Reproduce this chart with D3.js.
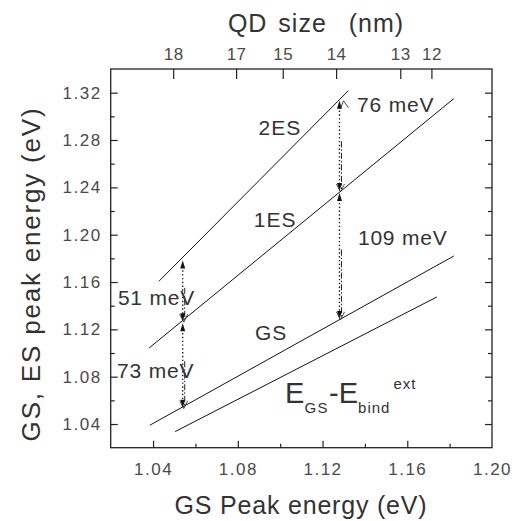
<!DOCTYPE html>
<html>
<head>
<meta charset="utf-8">
<script src="https://d3js.org/d3.v7.min.js"></script>
<style>
    body { margin: 0; background: #fff; }
    svg text { font-family: 'Liberation Sans', Arial, sans-serif; fill: #333; }
    .tick-label { font-size: 17px; fill: #4a4a4a; }
    .curve { fill: none; stroke: #111; stroke-width: 1; }
</style>
</head>
<body>
<div id="chart"></div>
<script>
    // axis ticks
    const xTicks = [1.04, 1.08, 1.12, 1.16, 1.20];
    const xMinor = [1.06, 1.10, 1.14, 1.18];
    const yTicks = [1.04, 1.08, 1.12, 1.16, 1.20, 1.24, 1.28, 1.32];
    const yMinor = [1.06, 1.10, 1.14, 1.18, 1.22, 1.26, 1.30];

    // top axis: QD size vs GS energy
    const qdSizes = [18, 17, 15, 14, 13, 12];
    const qdEnergy = [1.0495, 1.0792, 1.1012, 1.1264, 1.1567, 1.1714];

    // fitted lines, endpoints [GS energy, peak energy]
    const es2Line = [[1.0428, 1.1607], [1.1322, 1.3217]];
    const es1Line = [[1.0381, 1.1042], [1.1820, 1.3150]];
    const gsLine = [[1.0385, 1.0390], [1.1820, 1.1820]];
    const bindLine = [[1.0504, 1.0336], [1.1740, 1.1474]];

    // energy gaps shown with arrows
    const gapX = [1.054, 1.054, 1.128, 1.128];
    const gapTop = [1.179, 1.126, 1.314, 1.236];
    const gapBottom = [1.126, 1.053, 1.236, 1.128];

    // text labels [x, y, text]
    const lineLabels = [[1.0999, 1.2842, "2ES"], [1.0976, 1.2065, "1ES"], [1.0957, 1.1110, "GS"]];
    const gapLabels = [[1.0234, 1.1406, "51 meV"], [1.0230, 1.0789, "73 meV"],
                       [1.1363, 1.3037, "76 meV"], [1.1367, 1.1913, "109 meV"]];
    const bindLabelPos = [1.1023, 1.0578];

    const W = 514, H = 521;
    const svg = d3.select("#chart").append("svg")
        .attr("width", W).attr("height", H);

    const x = d3.scaleLinear().domain([1.02, 1.20]).range([110.7, 492]);
    const y = d3.scaleLinear().domain([1.02, 1.34]).range([447.7, 69]);
    const x0 = x.range()[0], x1 = x.range()[1], y0 = y.range()[0], y1 = y.range()[1];

    // frame
    svg.append("rect")
        .attr("x", x0).attr("y", y1)
        .attr("width", x1 - x0).attr("height", y0 - y1)
        .attr("fill", "none").attr("stroke", "#222").attr("stroke-width", 1.3);

    // bottom axis
    const bottomAxis = svg.append("g").attr("transform", `translate(0,${y0})`);
    bottomAxis.call(d3.axisBottom(x).tickValues(xTicks).tickSize(-7).tickPadding(15)
        .tickFormat(d3.format(".2f")));
    bottomAxis.selectAll(".tick").filter(d => d == 1.20).select("line").remove();
    bottomAxis.append("g").call(d3.axisBottom(x).tickValues(xMinor).tickSize(-4).tickFormat(""));

    // left axis
    const leftAxis = svg.append("g").attr("transform", `translate(${x0},0)`);
    leftAxis.call(d3.axisLeft(y).tickValues(yTicks).tickSize(-7).tickPadding(9)
        .tickFormat(d3.format(".2f")));
    leftAxis.append("g").call(d3.axisLeft(y).tickValues(yMinor).tickSize(-4).tickFormat(""));

    // right axis
    const rightAxis = svg.append("g").attr("transform", `translate(${x1},0)`);
    rightAxis.call(d3.axisRight(y).tickValues(yTicks).tickSize(-7).tickFormat(""));
    rightAxis.append("g").call(d3.axisRight(y).tickValues(yMinor).tickSize(-4).tickFormat(""));

    // top axis with QD size
    const qdScale = d3.scaleOrdinal().domain(qdSizes).range(qdEnergy.map(e => x(e)));
    const topAxis = svg.append("g").attr("transform", `translate(0,${y1})`);
    topAxis.call(d3.axisTop(qdScale).tickSize(-10).tickPadding(9));

    svg.selectAll(".domain").remove();
    svg.selectAll(".tick line").attr("stroke", "#222").attr("stroke-width", 1.2);
    svg.selectAll(".tick text").attr("class", "tick-label")
        .style("font-family", "'Liberation Sans', Arial, sans-serif");
    bottomAxis.selectAll(".tick text").style("letter-spacing", "1.5px");
    leftAxis.selectAll(".tick text").style("letter-spacing", "1.5px");
    topAxis.selectAll(".tick text").style("letter-spacing", "0.5px");

    // axis titles
    svg.append("text")
        .attr("x", 316).attr("y", 32)
        .attr("text-anchor", "middle")
        .style("font-size", "25px")
        .style("letter-spacing", "1px")
        .style("word-spacing", "3px")
        .style("white-space", "pre")
        .text("QD size  (nm)");
    svg.append("text")
        .attr("x", 301).attr("y", 514)
        .attr("text-anchor", "middle")
        .style("font-size", "25px")
        .style("letter-spacing", "0.8px")
        .text("GS Peak energy (eV)");
    svg.append("text")
        .attr("transform", "translate(40,274) rotate(-90)")
        .attr("text-anchor", "middle")
        .style("font-size", "26px")
        .style("letter-spacing", "1.8px")
        .text("GS, ES peak energy (eV)");

    // lines
    const line = d3.line().x(d => x(d[0])).y(d => y(d[1]));
    [es2Line, es1Line, gsLine, bindLine].forEach(pts => {
        svg.append("path").attr("class", "curve").attr("d", line(pts));
    });

    // arrows
    const arrows = svg.append("g");
    gapX.forEach((gx, i) => {
        const ax = x(gx);
        const ya = y(gapTop[i]) + 1, yb = y(gapBottom[i]) - 1;
        arrows.append("line")
            .attr("x1", ax).attr("x2", ax).attr("y1", ya + 6).attr("y2", yb - 6)
            .attr("stroke", "#111").attr("stroke-width", 1.3).attr("stroke-dasharray", "1.4,2.4");
        arrows.append("line")
            .attr("x1", ax + 2).attr("x2", ax + 2)
            .attr("y1", ya + (yb - ya) * 0.45).attr("y2", yb - 2)
            .attr("stroke", "#222").attr("stroke-width", 1).attr("stroke-dasharray", "6,2,1.5,2");
        // filled heads
        arrows.append("path")
            .attr("d", `M${ax},${ya} L${ax - 2.5},${ya + 8} L${ax + 2.5},${ya + 8} Z`)
            .attr("fill", "#111");
        arrows.append("path")
            .attr("d", `M${ax},${yb} L${ax - 2.5},${yb - 8} L${ax + 2.5},${yb - 8} Z`)
            .attr("fill", "#111");
        // open head at bottom
        arrows.append("path")
            .attr("d", `M${ax - 3},${yb - 7} L${ax + 1},${yb + 1} L${ax + 5},${yb - 7}`)
            .attr("fill", "none").attr("stroke", "#333").attr("stroke-width", 0.9);
        if (i == 2) {
            arrows.append("path")
                .attr("d", `M${ax + 1},${ya + 8} L${ax + 4},${ya} L${ax + 9},${ya + 7}`)
                .attr("fill", "none").attr("stroke", "#333").attr("stroke-width", 0.9);
        }
    });

    // labels
    lineLabels.forEach(d => {
        svg.append("text")
            .attr("x", x(d[0])).attr("y", y(d[1]))
            .attr("text-anchor", "middle")
            .style("font-size", "21px")
            .style("letter-spacing", "1px")
            .text(d[2]);
    });
    gapLabels.forEach(d => {
        svg.append("text")
            .attr("x", x(d[0])).attr("y", y(d[1]))
            .style("font-size", "21px")
            .style("letter-spacing", "0.8px")
            .text(d[2]);
    });

    const bind = svg.append("text")
        .attr("x", x(bindLabelPos[0])).attr("y", y(bindLabelPos[1]))
        .style("font-size", "29px");
    bind.append("tspan").text("E");
    bind.append("tspan").attr("dy", 10).style("font-size", "15px").style("letter-spacing", "1.5px").text("GS");
    bind.append("tspan").attr("dy", -10).text("-E");
    bind.append("tspan").attr("dy", 10).style("font-size", "15px").style("letter-spacing", "1px").text("bind");
    bind.append("tspan").attr("dy", -24).attr("dx", 3).style("font-size", "15px").style("letter-spacing", "1px").text("ext");
</script>
</body>
</html>
